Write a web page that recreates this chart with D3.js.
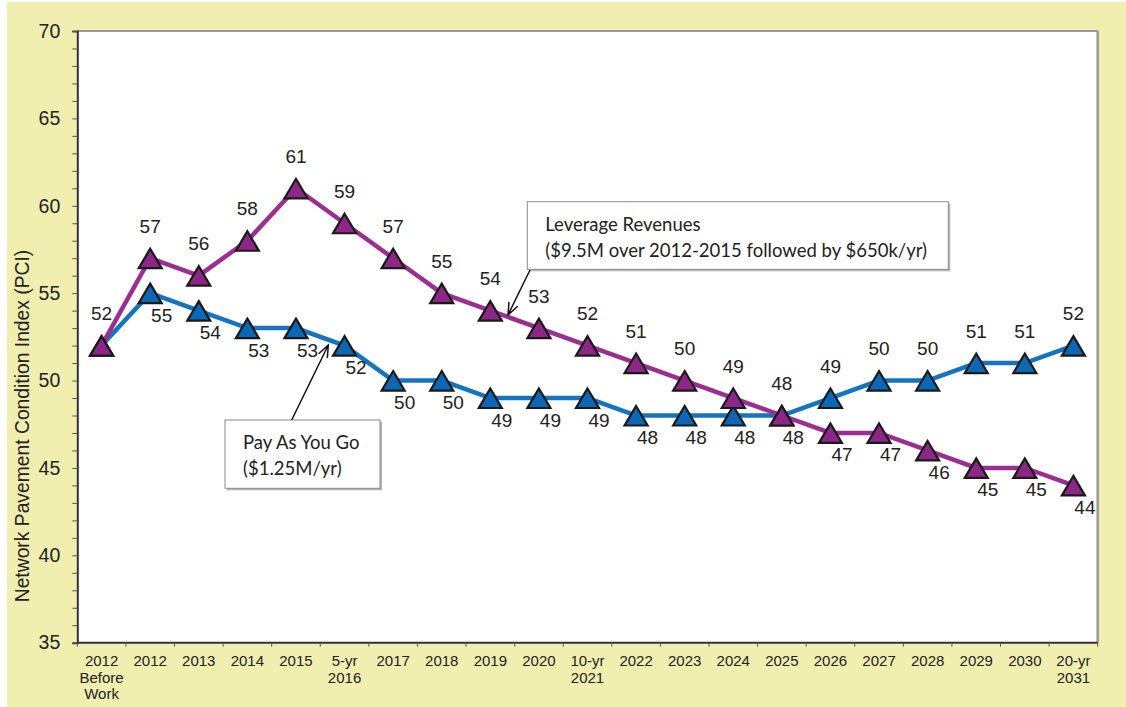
<!DOCTYPE html>
<meta charset="utf-8">
<style>
body { margin: 0; background: #fff; }
svg { display: block; }
.tick text { font-family: "Liberation Sans", Arial, sans-serif; fill: #222; }
.lbl { font-family: "Liberation Sans", Arial, sans-serif; font-size: 19px; fill: #222; }
.note { font-family: Lato, "Open Sans", sans-serif; font-size: 18.5px; fill: #222; }
</style>
<body>
<script src="https://cdn.jsdelivr.net/npm/d3@7/dist/d3.min.js"></script>
<script>

// data
var years = ["2012\nBefore\nWork", "2012", "2013", "2014", "2015", "5-yr\n2016", "2017", "2018", "2019", "2020",
             "10-yr\n2021", "2022", "2023", "2024", "2025", "2026", "2027", "2028", "2029", "2030", "20-yr\n2031"];
var leverage = [52, 57, 56, 58, 61, 59, 57, 55, 54, 53, 52, 51, 50, 49, 48, 47, 47, 46, 45, 45, 44];
var payGo    = [52, 55, 54, 53, 53, 52, 50, 50, 49, 49, 49, 48, 48, 48, 48, 49, 50, 50, 51, 51, 52];
var yTicks = [35, 40, 45, 50, 55, 60, 65, 70];
var yTitle = "Network Pavement Condition Index (PCI)";

var W = 1126, H = 707;
var pLeft = 77.3, pRight = 1097.7, pTop = 31, pBottom = 642.7;

var svg = d3.select("body").append("svg")
    .attr("width", W)
    .attr("height", H);

// yellow backdrop
svg.append("rect")
    .attr("x", 7).attr("y", 2)
    .attr("width", W - 7).attr("height", H - 2)
    .attr("fill", "#f0efb0");

// plot area
svg.append("rect")
    .attr("x", pLeft).attr("y", pTop)
    .attr("width", pRight - pLeft).attr("height", pBottom - pTop)
    .attr("fill", "#fff");

var x = d3.scaleBand()
    .domain(d3.range(years.length))
    .range([pLeft, pRight])
    .padding(0);
var y = d3.scaleLinear()
    .domain([35, 70])
    .range([pBottom, pTop]);

var cx = function(i) { return x(i) + x.bandwidth() / 2; };

// frame: top/right grey, left/bottom dark
svg.append("line").attr("x1", pLeft).attr("x2", pRight).attr("y1", pTop).attr("y2", pTop)
    .attr("stroke", "#9a9a9a").attr("stroke-width", 2);
svg.append("line").attr("x1", pRight).attr("x2", pRight).attr("y1", pTop).attr("y2", pBottom)
    .attr("stroke", "#9a9a9a").attr("stroke-width", 2.5);

// y axis with minor ticks
var yAxis = svg.append("g")
    .attr("transform", "translate(" + pLeft + ",0)")
    .call(d3.axisLeft(y).tickValues(d3.range(35, 71, 1)).tickSize(5)
        .tickFormat(function(d) { return yTicks.indexOf(d) >= 0 ? d : ""; }));
yAxis.selectAll("text").attr("font-size", 19.5).attr("x", -17);
yAxis.select(".domain").attr("stroke", "#333").attr("stroke-width", 2);
yAxis.selectAll(".tick line").attr("stroke", "#555");

// x axis: ticks at band edges
var xAxis = svg.append("g")
    .attr("transform", "translate(0," + pBottom + ")");
xAxis.append("line")
    .attr("x1", pLeft).attr("x2", pRight)
    .attr("stroke", "#333").attr("stroke-width", 2);
xAxis.selectAll(".xt")
    .data(d3.range(years.length + 1))
  .enter().append("line")
    .attr("x1", function(i) { return i < years.length ? x(i) : pRight; })
    .attr("x2", function(i) { return i < years.length ? x(i) : pRight; })
    .attr("y1", 0).attr("y2", 4)
    .attr("stroke", "#555");
var xl = xAxis.selectAll(".xl")
    .data(years)
  .enter().append("text")
    .attr("class", "lbl")
    .style("font-size", "15px")
    .attr("text-anchor", "middle")
    .attr("transform", function(d, i) { return "translate(" + cx(i) + ",23.5)"; });
xl.selectAll("tspan")
    .data(function(d) { return d.split("\n"); })
  .enter().append("tspan")
    .attr("x", 0)
    .attr("dy", function(d, j) { return j ? 16.5 : 0; })
    .text(function(d) { return d; });

// y title
svg.append("text")
    .attr("class", "lbl")
    .style("font-size", "19.3px")
    .attr("text-anchor", "middle")
    .attr("transform", "translate(29,426) rotate(-90)")
    .text(yTitle);

var line = d3.line()
    .x(function(d, i) { return cx(i); })
    .y(function(d) { return y(d); });

var tri = "M0,-9.5L11.5,10L-11.5,10Z";

var series = [
  {values: payGo, stroke: "#1573bf", fill: "#0c67b4", key: "b"},
  {values: leverage, stroke: "#9a2f91", fill: "#8c2787", key: "p"}
];

series.forEach(function(s) {
  svg.append("path")
      .datum(s.values)
      .attr("d", line)
      .attr("fill", "none")
      .attr("stroke", s.stroke)
      .attr("stroke-width", 4.5);
  svg.selectAll(".m" + s.key)
      .data(s.values)
    .enter().append("path")
      .attr("d", tri)
      .attr("transform", function(d, i) { return "translate(" + cx(i) + "," + y(d) + ")"; })
      .attr("fill", s.fill)
      .attr("stroke", "#1a1a1a")
      .attr("stroke-width", 2.2);
});

// value labels: the higher series above, the lower one below-right
function above(key, i) {
  var p = leverage[i], b = payGo[i];
  if (p === b) return key === "p";
  return key === "p" ? p > b : b > p;
}
series.forEach(function(s) {
  svg.selectAll(".v" + s.key)
      .data(s.values)
    .enter().append("text")
      .attr("class", "lbl")
      .attr("text-anchor", "middle")
      .attr("x", function(d, i) { return cx(i) + (above(s.key, i) ? 0 : 11.5); })
      .attr("y", function(d, i) { return y(d) + (above(s.key, i) ? -25.5 : 28.5); })
      .text(function(d) { return d; })
    // both series start at the same value: only one label there
    .filter(function(d, i) { return i === 0 && s.key === "b"; })
      .remove();
});

// callouts
function callout(bx, by, bw, bh, lines, from, to) {
  var g = svg.append("g");
  g.append("rect")
      .attr("x", bx + 2).attr("y", by + 2).attr("width", bw).attr("height", bh)
      .attr("fill", "#b5b5b5");
  g.append("rect")
      .attr("x", bx).attr("y", by).attr("width", bw).attr("height", bh)
      .attr("fill", "#fff").attr("stroke", "#8a8a8a").attr("stroke-width", 1);
  lines.forEach(function(t, j) {
    g.append("text")
        .attr("class", "note")
        .attr("x", bx + 18)
        .attr("y", by + 29 + j * 26)
        .text(t);
  });
  var ang = Math.atan2(to[1] - from[1], to[0] - from[0]);
  var L = 13, sp = 0.38;
  g.append("path")
      .attr("d", "M" + from + "L" + to
          + "M" + [to[0] - L * Math.cos(ang - sp), to[1] - L * Math.sin(ang - sp)]
          + "L" + to
          + "L" + [to[0] - L * Math.cos(ang + sp), to[1] - L * Math.sin(ang + sp)])
      .attr("fill", "none")
      .attr("stroke", "#111")
      .attr("stroke-width", 1.5);
}

callout(527.3, 201.7, 421, 67.6,
  ["Leverage Revenues", "($9.5M over 2012-2015 followed by $650k/yr)"],
  [530, 270], [508, 315]);
callout(225, 420, 155, 68.3,
  ["Pay As You Go", "($1.25M/yr)"],
  [291.7, 420], [328.3, 345]);

</script>
</body>
